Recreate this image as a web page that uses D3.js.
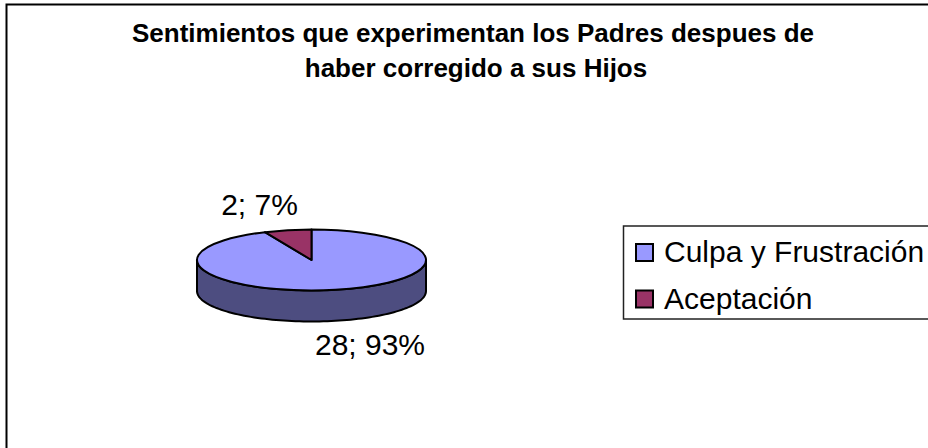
<!DOCTYPE html>
<html>
<head>
<meta charset="utf-8">
<script src="https://cdn.jsdelivr.net/npm/d3@7"></script>
<style>
html, body { margin: 0; padding: 0; background: #fff; }
text { font-family: "Liberation Sans", Arial, sans-serif; fill: #000; }
</style>
</head>
<body>
<div id="chart"></div>
<script>
const categories = ["Culpa y Frustración", "Aceptación"];
const values = [28, 2];
const percents = ["93%", "7%"];
const colors = ["#9999ff", "#993366"];
const wallColor = "#4d4d80";
const titleLines = ["Sentimientos que experimentan los Padres despues de", "haber corregido a sus Hijos"];

const width = 928, height = 448;
const cx = 311.5, cy = 260, rx = 114.5, ry = 30.5, depth = 31;

const svg = d3.select("#chart").append("svg")
    .attr("width", width)
    .attr("height", height)
    .style("display", "block");

// chart frame, only the left and top edges are inside the picture
svg.append("path")
    .attr("d", `M6.5,${height} V4.5 H${width}`)
    .attr("fill", "none")
    .attr("stroke", "#000")
    .attr("stroke-width", 2);

const titleX = [473, 476];
const titleY = [42, 77];
svg.selectAll(".title")
    .data(titleLines)
    .join("text")
    .attr("class", "title")
    .attr("x", (d, i) => titleX[i])
    .attr("y", (d, i) => titleY[i])
    .attr("text-anchor", "middle")
    .attr("font-size", 26)
    .attr("font-weight", "bold")
    .text(d => d);

const pie = d3.pie().sort(null);
const slices = pie(values);

// side wall, front half of the ellipse pushed down by depth
const px = a => cx + rx * Math.sin(a);
const py = a => cy - ry * Math.cos(a);
const front = d3.range(Math.PI / 2, Math.PI * 1.5 + 0.001, Math.PI / 90);
const wall = [
    ...front.map(a => [px(a), py(a)]),
    ...front.slice().reverse().map(a => [px(a), py(a) + depth])
];
svg.append("path")
    .attr("d", d3.line()(wall) + "Z")
    .attr("fill", wallColor)
    .attr("stroke", "#000")
    .attr("stroke-width", 2)
    .attr("stroke-linejoin", "round");

// top ellipse is a normal arc squashed in y
const arc = d3.arc().innerRadius(0).outerRadius(rx);
const pieTop = svg.append("g")
    .attr("transform", `translate(${cx},${cy}) scale(1,${ry / rx})`);

pieTop.selectAll("path")
    .data(slices)
    .join("path")
    .attr("d", arc)
    .attr("fill", (d, i) => colors[i])
    .attr("stroke", "#000")
    .attr("stroke-width", 2)
    .attr("stroke-linejoin", "round")
    .attr("vector-effect", "non-scaling-stroke");

// data labels
const labelPos = [[370, 355], [259.5, 215]];
svg.selectAll(".label")
    .data(slices)
    .join("text")
    .attr("class", "label")
    .attr("x", (d, i) => labelPos[i][0])
    .attr("y", (d, i) => labelPos[i][1])
    .attr("text-anchor", "middle")
    .attr("font-size", 30)
    .text((d, i) => `${values[i]}; ${percents[i]}`);

// legend
svg.append("rect")
    .attr("x", 623.5)
    .attr("y", 226)
    .attr("width", 320)
    .attr("height", 93)
    .attr("fill", "#fff")
    .attr("stroke", "#222")
    .attr("stroke-width", 1.5);

const legendY = d3.scalePoint().domain(categories).range([252.5, 299]);
const legend = svg.selectAll(".legend")
    .data(categories)
    .join("g")
    .attr("class", "legend")
    .attr("transform", d => `translate(0,${legendY(d)})`);
legend.append("rect")
    .attr("x", 636)
    .attr("y", -8.5)
    .attr("width", 17)
    .attr("height", 17)
    .attr("fill", (d, i) => colors[i])
    .attr("stroke", "#000")
    .attr("stroke-width", 2);
legend.append("text")
    .attr("x", 664)
    .attr("y", 9.5)
    .attr("font-size", 30)
    .text(d => d);
</script>
</body>
</html>
